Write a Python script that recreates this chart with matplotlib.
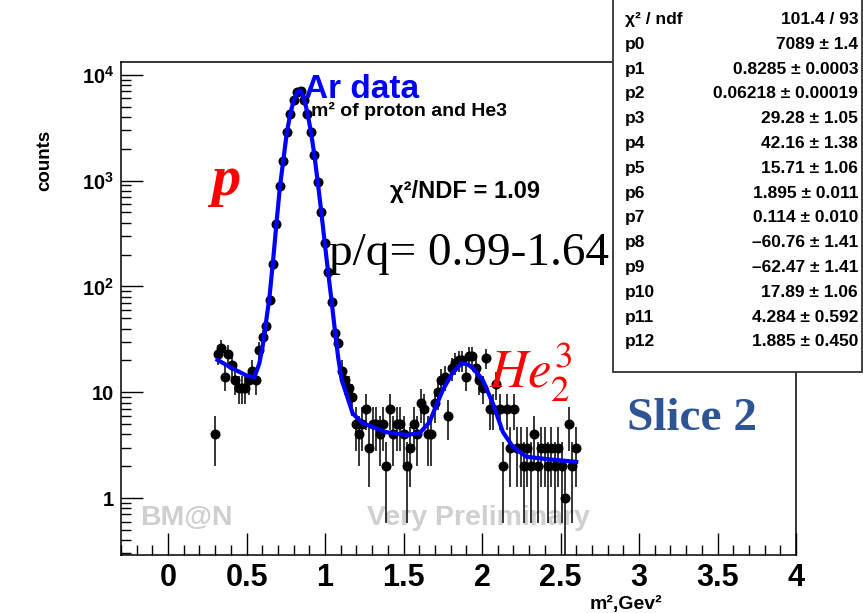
import numpy as np
import matplotlib
matplotlib.use("Agg")
import matplotlib.pyplot as plt
from matplotlib.ticker import MultipleLocator, LogLocator, NullFormatter
from matplotlib.patches import Rectangle

plt.rcParams["font.family"] = ["Liberation Sans", "DejaVu Sans"]
plt.rcParams["mathtext.fontset"] = "custom"
plt.rcParams["mathtext.rm"] = "Liberation Sans:bold"
plt.rcParams["mathtext.bf"] = "Liberation Sans:bold"
plt.rcParams["mathtext.it"] = "Liberation Sans:bold:italic"

# m^2 bin centres and counts
m2 = [0.296, 0.318, 0.340, 0.362, 0.384, 0.406, 0.427, 0.449, 0.471, 0.493,
      0.515, 0.537, 0.559, 0.581, 0.603, 0.625, 0.646, 0.668, 0.690, 0.712,
      0.734, 0.756, 0.778, 0.800, 0.822, 0.844, 0.865, 0.887, 0.909, 0.931,
      0.953, 0.975, 0.997, 1.019, 1.041, 1.063, 1.084, 1.106, 1.128, 1.150,
      1.172, 1.194, 1.216, 1.238, 1.260, 1.282, 1.303, 1.325, 1.347, 1.369,
      1.391, 1.413, 1.435, 1.457, 1.479, 1.501, 1.522, 1.544, 1.566, 1.588,
      1.610, 1.632, 1.654, 1.676, 1.698, 1.720, 1.741, 1.763, 1.785, 1.807,
      1.829, 1.851, 1.873, 1.895, 1.917, 1.939, 1.960, 1.982, 2.004, 2.026,
      2.048, 2.070, 2.092, 2.114, 2.136, 2.158, 2.179, 2.201, 2.223, 2.245,
      2.267, 2.289, 2.311, 2.333, 2.355, 2.377, 2.398, 2.420, 2.442, 2.464,
      2.486, 2.508, 2.530, 2.552, 2.574, 2.596]
counts = [4, 23, 26, 14, 23, 18, 13, 11, 11, 11,
          13, 16, 13, 25, 33, 42, 75, 163, 387, 891,
          1537, 2910, 4246, 5800, 6860, 6950, 5800, 4246, 2910, 1750,
          967, 510, 260, 137, 72, 36, 29, 16, 13, 11,
          9, 5, 4, 5, 7, 3, 5, 5, 4, 5,
          2, 7, 4, 5, 5, 4, 2, 3, 5, 4,
          8, 7, 4, 4, 8, 10, 13, 14, 6, 17,
          19, 20, 20, 14, 22, 22, 17, 13, 11, 21,
          7, 7, 12, 7, 2, 7, 3, 7, 3, 3,
          2, 3, 2, 4, 2, 3, 3, 2, 3, 2,
          3, 2, 1, 5, 2, 3]

# fit curve
fit_x = [0.315, 0.410, 0.496, 0.549, 0.581, 0.602, 0.623, 0.646, 0.668, 0.690,
         0.712, 0.734, 0.756, 0.778, 0.800, 0.822, 0.836, 0.844, 0.865, 0.887,
         0.909, 0.931, 0.953, 0.975, 0.997, 1.019, 1.041, 1.063, 1.084, 1.106,
         1.134, 1.176, 1.240, 1.389, 1.516, 1.601, 1.665, 1.700, 1.750, 1.810,
         1.870, 1.910, 1.950, 2.005, 2.069, 2.133, 2.196, 2.282, 2.430, 2.600]
fit_y = [20.2, 16.8, 14.5, 13.8, 18.7, 27, 45, 80, 170, 390,
         860, 1560, 2800, 4250, 5700, 6800, 7100, 7050, 6000, 4400,
         2950, 1780, 980, 520, 265, 138, 74, 38, 21, 13,
         9.8, 6.3, 5.1, 4.2, 3.95, 4.1, 5.2, 7.0, 10.5, 15.1,
         18.8, 18.3, 16.5, 13.0, 7.85, 4.2, 3.06, 2.46, 2.32, 2.2]

x_ticks = [0, 0.5, 1, 1.5, 2, 2.5, 3, 3.5, 4]
x_labels = ["0", "0.5", "1", "1.5", "2", "2.5", "3", "3.5", "4"]
y_ticks = [1, 10, 100, 1000, 10000]
y_labels = ["1", "10", r"$\mathbf{10^{2}}$", r"$\mathbf{10^{3}}$", r"$\mathbf{10^{4}}$"]

stat_names = ["χ² / ndf", "p0", "p1", "p2", "p3", "p4", "p5", "p6", "p7",
              "p8", "p9", "p10", "p11", "p12"]
stat_values = ["101.4 / 93", "7089 ± 1.4", "0.8285 ± 0.0003", "0.06218 ± 0.00019",
               "29.28 ± 1.05", "42.16 ± 1.38", "15.71 ± 1.06", "1.895 ± 0.011",
               "0.114 ± 0.010", "–60.76 ± 1.41", "–62.47 ± 1.41", "17.89 ± 1.06",
               "4.284 ± 0.592", "1.885 ± 0.450"]

W, H = 863, 613
fig = plt.figure(figsize=(W / 100, H / 100), dpi=100)
ax = fig.add_axes([121 / W, 1 - 555 / H, (796 - 121) / W, (555 - 62) / H])

def fx(px):
    return px / W

def fy(py):
    return 1 - py / H

counts_arr = np.array(counts, dtype=float)
err = np.sqrt(counts_arr)
ax.errorbar(m2, counts_arr, yerr=err, fmt="o", color="black", ms=6.2,
            elinewidth=1.1, capsize=0, zorder=3)
ax.plot(fit_x, fit_y, color="#0000ff", lw=3.0, zorder=4)

ax.set_yscale("log")
ax.set_xlim(-0.3, 4.0)
ax.set_ylim(0.29, 13200)

ax.set_xticks(x_ticks, labels=x_labels)
ax.xaxis.set_minor_locator(MultipleLocator(0.1))
ax.set_yticks(y_ticks, labels=y_labels)
ax.yaxis.set_minor_locator(LogLocator(base=10, subs=np.arange(2, 10)))
ax.yaxis.set_minor_formatter(NullFormatter())
ax.tick_params(which="both", direction="in", top=False, right=False, color="black")
ax.tick_params(which="major", length=16, width=1.0)
ax.tick_params(which="minor", length=7.5, width=1.0)
ax.tick_params(axis="x", which="major", labelsize=22, pad=6)
ax.tick_params(axis="y", which="major", labelsize=14.5, pad=5)
for lab in ax.get_xticklabels() + ax.get_yticklabels():
    lab.set_fontweight("bold")
for s in ax.spines.values():
    s.set_linewidth(1.1)

# watermarks
ax.text(0.028, 0.06, "BM@N", transform=ax.transAxes, fontsize=20.5,
        fontweight="bold", color="#cfcfcf", zorder=1)
ax.text(0.365, 0.06, "Very Preliminary", transform=ax.transAxes, fontsize=20.5,
        fontweight="bold", color="#cfcfcf", zorder=1)

# axis titles
fig.text(fx(45), fy(160), "counts", rotation=90, ha="center", va="center",
         fontsize=13.5, fontweight="bold")
fig.text(fx(662), fy(609), "m²,Gev²", ha="right", va="baseline",
         fontsize=14, fontweight="bold")

# annotations
fig.text(fx(304), fy(98), "Ar data", color="#0000ff", fontsize=24,
         fontweight="bold", va="baseline", zorder=6)
fig.text(fx(311), fy(116), "m² of proton and He3", fontsize=14,
         fontweight="bold", va="baseline", zorder=6)
fig.text(fx(390), fy(198), "χ²/NDF = 1.09", fontsize=17,
         fontweight="bold", va="baseline", zorder=6)
fig.text(fx(211), fy(195), "p", color="red", fontsize=42,
         family="Liberation Serif", fontweight="bold", style="italic",
         va="baseline", zorder=6)
fig.text(fx(329), fy(265), "p/q= 0.99-1.64", fontsize=34,
         family="Liberation Serif", va="baseline", zorder=6)
fig.text(fx(489), fy(388), r"$He_2^3$", color="red", fontsize=38,
         math_fontfamily="stix", va="baseline", zorder=6)
fig.text(fx(627), fy(430), "Slice 2", color="#2e5496", fontsize=34,
         family="Liberation Serif", fontweight="bold", va="baseline", zorder=6)

# stats box
fig.add_artist(Rectangle((fx(613), fy(372)), fx(862) - fx(613), fy(-2) - fy(372),
                         transform=fig.transFigure, facecolor="white",
                         edgecolor="#333333", lw=1.3, zorder=5))
for i, (name, val) in enumerate(zip(stat_names, stat_values)):
    py = 24 + i * 24.8
    fig.text(fx(625), fy(py), name, fontsize=12.5, fontweight="bold",
             va="baseline", zorder=6)
    fig.text(fx(858), fy(py), val, fontsize=12.5, fontweight="bold",
             ha="right", va="baseline", zorder=6)

fig.savefig("out.png", dpi=100)
